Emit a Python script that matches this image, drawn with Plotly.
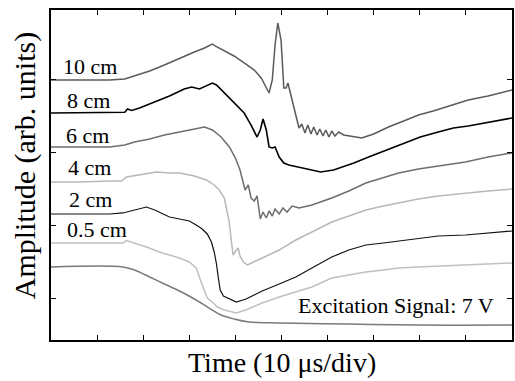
import plotly.graph_objects as go

# ---- data (time in microseconds, amplitude in arbitrary units) ----
x_10cm = [0, 4.1, 8.4, 12.7, 16.0, 18.1, 21.4, 24.6, 27.9, 31.1, 33.3, 35.0, 35.6, 37.6, 39.7, 41.9,
          44.1, 45.6, 46.7, 47.3, 48.0, 48.6, 49.2, 49.9, 50.5, 51.0, 51.4, 51.8, 52.5, 53.1, 53.8, 54.4,
          55.1, 55.7, 56.4, 57.0, 57.7, 58.3, 59.0, 59.6, 60.3, 60.9, 61.6, 62.4, 63.5, 65.0, 67.4, 70.0,
          73.2, 76.5, 79.7, 82.9, 87.3, 90.5, 94.8, 100]
y_10cm = [40.00, 40.00, 40.00, 40.00, 40.13, 40.55, 41.24, 42.06, 43.02, 43.85, 44.40, 44.95, 44.68, 43.99,
          43.30, 42.34, 41.37, 40.27, 38.90, 38.21, 40.00, 44.81, 47.84, 45.50, 38.90, 38.90, 39.58, 38.62,
          36.56, 35.18, 33.39, 33.94, 32.70, 33.80, 32.57, 33.53, 32.43, 33.25, 32.29, 33.12, 32.15, 32.98,
          32.29, 32.84, 32.43, 32.29, 32.02, 32.57, 33.53, 34.36, 35.18, 35.73, 36.56, 37.24, 37.80, 38.62]

x_8cm = [0, 6.3, 12.7, 16.0, 16.6, 17.5, 19.2, 22.5, 25.7, 28.9, 30.5, 32.2, 33.7, 35.0, 35.9, 37.6,
         39.7, 41.9, 43.4, 44.7, 45.4, 46.0, 46.7, 47.3, 48.0, 48.6, 49.5, 50.5, 51.6, 52.7, 53.8, 55.9,
         58.5, 61.3, 65.7, 68.9, 72.8, 76.5, 80.1, 84.0, 87.3, 90.5, 94.4, 100]
y_8cm = [35.46, 35.46, 35.46, 35.55, 36.00, 35.80, 36.14, 36.97, 37.80, 38.76, 39.03, 38.76, 39.17, 39.58,
         39.31, 38.21, 36.97, 35.46, 33.80, 32.15, 33.12, 34.63, 33.12, 30.78, 30.64, 30.78, 29.40, 28.58,
         28.30, 28.16, 28.03, 27.75, 27.34, 27.61, 28.58, 29.40, 30.36, 31.33, 32.15, 32.84, 33.39, 33.67,
         34.08, 34.77]

x_6cm = [0, 6.3, 12.7, 16.0, 18.1, 21.4, 24.6, 27.9, 31.1, 33.3, 35.0, 36.9, 38.7, 40.0, 41.0, 41.7,
         42.1, 42.8, 43.4, 44.1, 44.7, 45.4, 46.0, 46.7, 47.3, 48.0, 48.6, 49.5, 50.3, 51.2, 52.3, 53.8,
         56.6, 60.9, 64.6, 68.3, 72.1, 75.4, 79.7, 84.0, 89.9, 94.8, 100]
y_6cm = [30.78, 30.78, 30.78, 31.05, 31.47, 31.88, 32.43, 32.84, 33.25, 33.53, 33.12, 32.15, 30.78, 29.26,
         27.61, 25.55, 24.86, 25.55, 23.76, 23.35, 24.04, 20.87, 21.83, 21.01, 21.97, 21.28, 22.25, 21.56,
         22.38, 21.83, 22.66, 22.38, 22.80, 23.76, 24.72, 25.82, 26.51, 27.20, 27.75, 28.16, 28.71, 29.40,
         29.95]

x_4cm = [0, 6.3, 12.7, 15.3, 16.4, 19.2, 22.9, 25.7, 27.9, 31.1, 33.7, 35.4, 36.5, 37.6, 38.2, 38.7,
         39.1, 39.5, 40.2, 40.6, 41.0, 41.7, 42.6, 44.1, 45.8, 49.5, 53.1, 56.6, 60.9, 64.6, 68.3, 72.1,
         75.4, 79.7, 84.0, 89.9, 94.8, 100]
y_4cm = [25.96, 25.96, 26.10, 26.10, 26.65, 26.92, 27.34, 27.20, 27.20, 26.79, 26.24, 25.55, 24.86, 23.76,
         22.11, 20.32, 17.98, 15.92, 16.60, 16.88, 15.78, 14.95, 14.54, 14.95, 15.50, 16.60, 17.98, 19.08,
         20.46, 21.28, 22.11, 22.66, 23.07, 23.62, 24.04, 24.45, 24.72, 25.00]

x_2cm = [0, 6.3, 12.7, 15.6, 17.1, 19.2, 20.7, 22.5, 24.0, 25.7, 27.9, 30.0, 31.5, 32.8, 33.9, 34.8,
         35.4, 35.9, 36.3, 36.7, 37.4, 38.7, 40.2, 42.3, 45.8, 49.5, 53.1, 56.6, 60.9, 64.6, 68.3, 72.1,
         75.4, 79.7, 84.0, 89.9, 94.8, 100]
y_2cm = [21.56, 21.56, 21.56, 21.70, 21.97, 22.25, 22.52, 22.11, 21.70, 21.15, 20.87, 20.60, 20.04, 19.49,
         18.81, 17.71, 16.33, 14.68, 12.75, 11.10, 10.28, 9.86, 9.45, 9.86, 10.96, 11.93, 12.89, 14.13,
         15.64, 16.60, 17.29, 17.57, 17.84, 18.26, 18.53, 18.67, 18.94, 19.22]

x_05cm = [0, 6.3, 12.7, 15.6, 16.4, 18.1, 20.7, 23.5, 25.7, 27.9, 30.0, 31.5, 32.8, 33.9, 35.0, 36.1,
          37.6, 40.2, 42.3, 45.8, 49.5, 53.1, 56.6, 60.9, 64.6, 68.3, 72.1, 75.4, 79.7, 84.0, 89.9, 94.8, 100]
y_05cm = [17.57, 17.57, 17.57, 17.57, 17.90, 17.57, 17.02, 16.33, 15.92, 15.50, 14.95, 14.13, 11.79, 10.00,
          9.45, 8.76, 8.35, 7.94, 8.35, 9.31, 10.14, 10.83, 11.51, 12.75, 13.16, 13.58, 13.85, 14.13, 14.27,
          14.40, 14.54, 14.68, 14.82]

x_exc = [0, 15.6, 18.1, 21.4, 24.6, 27.9, 31.1, 34.3, 36.9, 39.7, 43.0, 49.5, 64.6, 79.7, 100]
y_exc = [14.27, 14.27, 13.85, 12.89, 11.93, 10.96, 9.86, 8.62, 7.66, 7.11, 6.70, 6.56, 6.42, 6.28, 6.28]

labels = ["10 cm", "8 cm", "6 cm", "4 cm", "2 cm", "0.5 cm"]
label_x = [8.5, 8.1, 8.0, 8.4, 8.5, 9.9]
label_y = [41.8, 37.2, 32.4, 28.0, 23.5, 19.4]
exc_label = "Excitation Signal: 7 V"

series = [
    (x_10cm, y_10cm, "#5a5a5a", 1.5, "linear"),
    (x_8cm, y_8cm, "#000000", 1.6, "linear"),
    (x_6cm, y_6cm, "#6e6e6e", 1.5, "linear"),
    (x_4cm, y_4cm, "#b8b8b8", 1.5, "linear"),
    (x_2cm, y_2cm, "#111111", 1.2, "linear"),
    (x_05cm, y_05cm, "#c0c0c0", 1.5, "linear"),
    (x_exc, y_exc, "#7a7a7a", 1.5, "spline"),
]

fig = go.Figure()
for xs, ys, col, w, shp in series:
    fig.add_trace(go.Scatter(x=xs, y=ys, mode="lines",
                             line=dict(color=col, width=w, shape=shp), showlegend=False))

FONT = "Liberation Serif, Times New Roman, serif"
for t, lx, ly in zip(labels, label_x, label_y):
    fig.add_annotation(x=lx, y=ly, text=t, showarrow=False,
                       font=dict(family=FONT, size=22, color="black"),
                       xanchor="center", yanchor="middle")
fig.add_annotation(x=74.8, y=9.0, text=exc_label, showarrow=False,
                   font=dict(family=FONT, size=22, color="black"),
                   xanchor="center", yanchor="middle")

fig.add_annotation(xref="paper", yref="paper", x=0.5, y=-0.068, text="Time (10 μs/div)",
                   showarrow=False, font=dict(family=FONT, size=28, color="black"),
                   xanchor="center", yanchor="middle")
fig.add_annotation(xref="paper", yref="paper", x=-0.056, y=0.527, text="Amplitude (arb. units)",
                   textangle=-90, showarrow=False, font=dict(family=FONT, size=30, color="black"),
                   xanchor="center", yanchor="middle")

axis_common = dict(showline=True, linecolor="black", linewidth=1.5, mirror="ticks",
                   ticks="inside", ticklen=5, tickwidth=1.2, tickcolor="black",
                   showticklabels=False, showgrid=False, zeroline=False)

fig.update_xaxes(range=[0, 100], dtick=10, tick0=0, **axis_common)
fig.update_yaxes(range=[4.22, 49.63], dtick=10, tick0=0, **axis_common)

fig.update_layout(width=515, height=381, margin=dict(l=51, r=1, t=10, b=41),
                  plot_bgcolor="white", paper_bgcolor="white")

fig.write_html("out.html", config={"displayModeBar": False},
               post_script="document.body.style.margin='0';document.body.style.overflow='hidden';")
